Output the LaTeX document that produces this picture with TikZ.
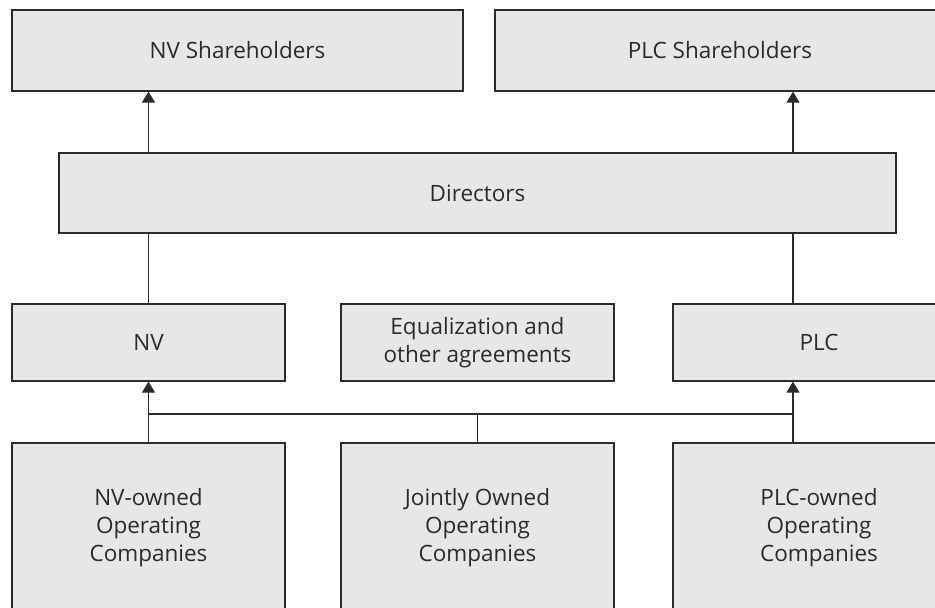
\documentclass[tikz,border=0pt]{standalone}
\usepackage{fontspec}
\setmainfont{Open Sans}
\usetikzlibrary{arrows.meta}

\definecolor{boxfill}{HTML}{E6E7E8}
\definecolor{ink}{HTML}{2B2B2B}

\tikzset{
  orgbox/.style={draw=ink, fill=boxfill, line width=1.2pt, text=ink,
    align=center, inner sep=0pt, font=\fontsize{22.5}{28}\selectfont},
  link/.style={draw=ink, line width=1.2pt},
  uparrow/.style={link, -{Triangle[width=13pt,length=11pt]}},
}

\begin{document}
\begin{tikzpicture}[x=1pt, y=-1pt]
  \useasboundingbox (0,0) rectangle (935,608);
  \clip (0,0) rectangle (935,608);

  % shareholders
  \node[orgbox, minimum width=451pt, minimum height=81pt] (nvsh) at (237.5,50.5) {NV Shareholders};
  \node[orgbox, minimum width=450pt, minimum height=81pt] (plcsh) at (720,50.5) {PLC Shareholders};

  % board
  \node[orgbox, minimum width=837pt, minimum height=80pt] (dir) at (477.5,193) {Directors};

  % parent companies
  \node[orgbox, minimum width=273pt, minimum height=77pt] (nv) at (148.5,342.5) {NV};
  \node[orgbox, minimum width=273pt, minimum height=77pt] (eq) at (477.5,342.5) {Equalization and\\other agreements};
  \node[orgbox, minimum width=292pt, minimum height=77pt] (plc) at (819,342.5) {PLC};

  % operating companies
  \node[orgbox, minimum width=273pt, minimum height=170pt] (nvop) at (148.5,528) {NV-owned\\Operating\\Companies};
  \node[orgbox, minimum width=273pt, minimum height=170pt] (jo) at (477.5,528) {Jointly Owned\\Operating\\Companies};
  \node[orgbox, minimum width=292pt, minimum height=170pt] (plcop) at (819,528) {PLC-owned\\Operating\\Companies};

  % connectors
  \coordinate (plcx) at ([xshift=-26pt]plc.north);
  \coordinate (bus) at (0,414);
  \draw[link] (nv.north) -- (nv.north |- dir.south);
  \draw[uparrow] (nv.north |- dir.north) -- (nv.north |- nvsh.south);
  \draw[link] (plcx) -- (plcx |- dir.south);
  \draw[uparrow] (plcx |- dir.north) -- (plcx |- plcsh.south);
  \draw[uparrow] (nvop.north) -- (nv.south);
  \draw[uparrow] (plcx |- plcop.north) -- (plcx |- plc.south);
  \draw[link] (nv.south |- bus) -- (plcx |- bus);
  \draw[link] (jo.north) -- (jo.north |- bus);
\end{tikzpicture}
\end{document}
